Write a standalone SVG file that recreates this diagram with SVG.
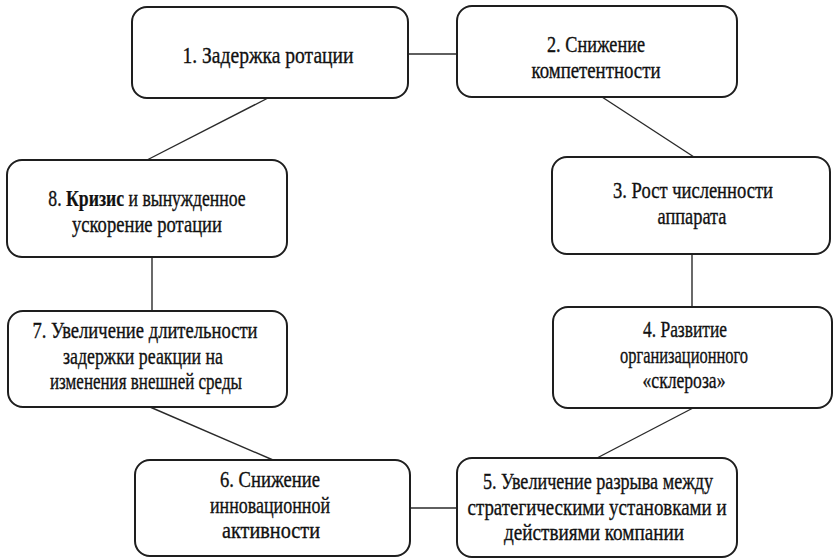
<svg xmlns="http://www.w3.org/2000/svg" width="834" height="560" viewBox="0 0 834 560">
<style>
.box{fill:#fff;stroke:#1e1e1e;stroke-width:2}
.con{stroke:#2a2a2a;stroke-width:1.4;fill:none}
text{font-family:"Liberation Serif","DejaVu Serif",serif;font-size:23px;fill:#111;stroke:#111;stroke-width:0.35;text-anchor:middle}
.b{font-weight:bold;stroke-width:0.2}
</style>
<rect width="834" height="560" fill="#fff"/>
<g id="connectors">
<line class="con" x1="408" y1="54" x2="457" y2="54"/>
<line class="con" x1="268" y1="98" x2="147" y2="160"/>
<line class="con" x1="602" y1="97" x2="694" y2="157"/>
<line class="con" x1="692" y1="254" x2="692" y2="307"/>
<line class="con" x1="152" y1="257" x2="152" y2="311"/>
<line class="con" x1="150" y1="407" x2="273" y2="460"/>
<line class="con" x1="693" y1="408" x2="597" y2="458"/>
<line class="con" x1="410" y1="508" x2="457" y2="508"/>
</g>
<g id="n1">
<rect class="box" x="132" y="7" width="276" height="91" rx="15"/>
<text x="268" y="63" textLength="171" lengthAdjust="spacingAndGlyphs">1. Задержка ротации</text>
</g>
<g id="n2">
<rect class="box" x="457" y="6" width="280" height="91" rx="15"/>
<text x="596" y="52" textLength="98" lengthAdjust="spacingAndGlyphs">2. Снижение</text>
<text x="596" y="78" textLength="129" lengthAdjust="spacingAndGlyphs">компетентности</text>
</g>
<g id="n3">
<rect class="box" x="552" y="157" width="278" height="97" rx="15"/>
<text x="693" y="198" textLength="160" lengthAdjust="spacingAndGlyphs">3. Рост численности</text>
<text x="692" y="224" textLength="69" lengthAdjust="spacingAndGlyphs">аппарата</text>
</g>
<g id="n4">
<rect class="box" x="553" y="307" width="279" height="101" rx="15"/>
<text x="685" y="337" textLength="84" lengthAdjust="spacingAndGlyphs">4. Развитие</text>
<text x="684" y="363" textLength="128" lengthAdjust="spacingAndGlyphs">организационного</text>
<text x="684" y="388" textLength="83" lengthAdjust="spacingAndGlyphs">«склероза»</text>
</g>
<g id="n5">
<rect class="box" x="457" y="458" width="280" height="99" rx="15"/>
<text x="598" y="489" textLength="230" lengthAdjust="spacingAndGlyphs">5. Увеличение разрыва между</text>
<text x="597" y="515" textLength="259" lengthAdjust="spacingAndGlyphs">стратегическими установками и</text>
<text x="594" y="540" textLength="180" lengthAdjust="spacingAndGlyphs">действиями компании</text>
</g>
<g id="n6">
<rect class="box" x="135" y="460" width="275" height="96" rx="15"/>
<text x="270" y="487" textLength="100" lengthAdjust="spacingAndGlyphs">6. Снижение</text>
<text x="270" y="513" textLength="120" lengthAdjust="spacingAndGlyphs">инновационной</text>
<text x="271" y="538" textLength="98" lengthAdjust="spacingAndGlyphs">активности</text>
</g>
<g id="n7">
<rect class="box" x="8" y="311" width="279" height="96" rx="15"/>
<text x="145" y="338" textLength="225" lengthAdjust="spacingAndGlyphs">7. Увеличение длительности</text>
<text x="143" y="364" textLength="160" lengthAdjust="spacingAndGlyphs">задержки реакции на</text>
<text x="146" y="389" textLength="192" lengthAdjust="spacingAndGlyphs">изменения внешней среды</text>
</g>
<g id="n8">
<rect class="box" x="7" y="160" width="280" height="97" rx="15"/>
<text transform="translate(147,206) scale(0.77,1)" x="0" y="0">8. <tspan class="b">Кризис</tspan> и вынужденное</text>
<text x="147" y="232" textLength="150" lengthAdjust="spacingAndGlyphs">ускорение ротации</text>
</g>
</svg>
